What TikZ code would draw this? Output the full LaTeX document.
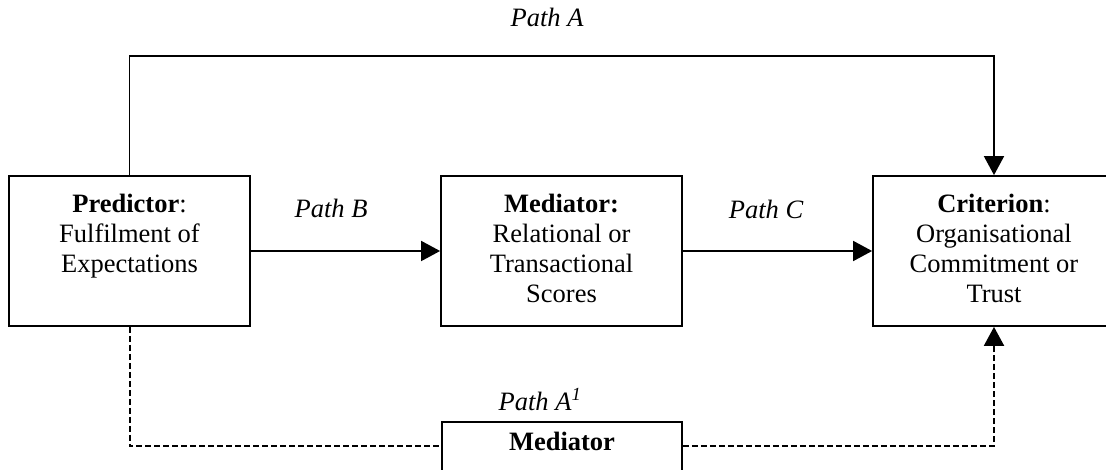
\documentclass[tikz,border=0pt]{standalone}
\usepackage{fontspec}
\setmainfont{Liberation Serif}
\usetikzlibrary{arrows.meta}
\newcommand\boxtext[3]{\parbox[c][150pt][t]{#1}{\centering\vspace*{#2}#3\par}}
\begin{document}
\begin{tikzpicture}[x=1pt,y=-1pt,
  every node/.style={font=\fontsize{26.5}{30}\selectfont, inner sep=0pt},
  box/.style={draw, line width=1.8pt, rectangle},
  conn/.style={line width=1.8pt},
  arr/.style={conn,-{Triangle[length=19pt,width=20pt]}},
  dashline/.style={conn, line width=2pt, dash pattern=on 6pt off 3pt},
  lbl/.style={anchor=base, font=\fontsize{26.5}{30}\selectfont\itshape}]
\useasboundingbox (0,0) rectangle (1106,470);
\node[box] (pred) at (129.5,251) {\boxtext{241pt}{18pt}{\textbf{Predictor}:\\Fulfilment of\\Expectations}};
\node[box] (med) at (561.5,251) {\boxtext{241pt}{18pt}{\textbf{Mediator:}\\Relational or\\Transactional\\Scores}};
\node[box] (crit) at (994,251) {\boxtext{242pt}{18pt}{\textbf{Criterion}:\\Organisational\\Commitment or\\Trust}};
\node[box] (bmed) at (562,497) {\boxtext{240pt}{10pt}{\textbf{Mediator}}};
\coordinate (topy) at (0,56);
\coordinate (dashy) at (0,446);
\draw[arr] (pred.north) |- (crit.north |- topy) -- (crit.north);
\draw[arr] (pred.east) -- (med.west);
\draw[arr] (med.east) -- (crit.west);
\draw[dashline] (pred.south) |- (bmed.west |- dashy);
\draw[dashline,-{Triangle[length=19pt,width=20pt]}] (bmed.east |- dashy) -| (crit.south);
\node[lbl] (la) at (547,27) {Path A};
\node[lbl] (lb) at (331,218) {Path B};
\node[lbl] (lc) at (766,219) {Path C};
\node[lbl] (la1) at (540,410) {Path A\textsuperscript{1}};
\end{tikzpicture}
\end{document}
